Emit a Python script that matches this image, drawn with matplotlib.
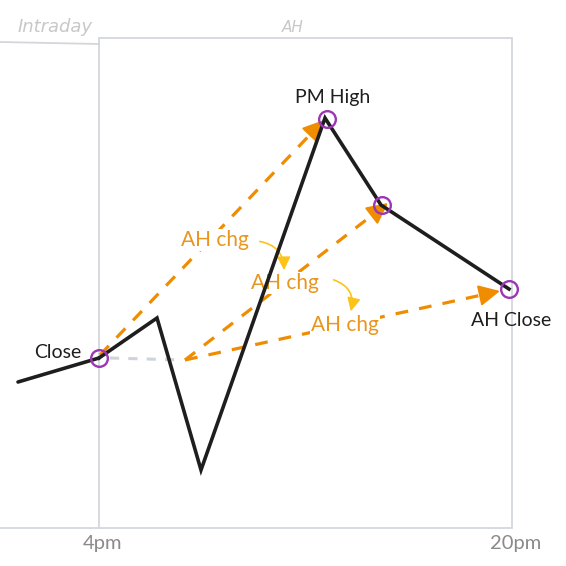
import matplotlib.pyplot as plt
from matplotlib.patches import Rectangle

# price path (time position, price position in sketch units; y grows downwards)
intraday_x = [18, 99]
intraday_y = [382, 358]
path_x = [99, 157, 201, 325, 381, 509]
path_y = [358, 318, 470, 118, 205, 289]

# key points marked with circles
key_x = [99, 327, 382, 509]
key_y = [358, 119, 205, 289]
key_labels = ["Close", "PM High", "", "AH Close"]

# "AH chg" arrows: start -> end
chg_start_x = [100, 185, 185]
chg_start_y = [355, 360, 360]
chg_end_x = [324, 388, 500]
chg_end_y = [120, 203, 291]
chg_label_x = [215, 285, 345]
chg_label_y = [240, 283, 325]

# flat reference from the close
ref_x = [110, 183]
ref_y = [358, 360]

session_labels = ["Intraday", "AH"]
time_labels = ["4pm", "20pm"]

BLACK = "#1e1e1e"
PURPLE = "#9c36b5"
ORANGE = "#f08c00"
ORANGE_TXT = "#e8961e"
YELLOW = "#fcc419"
GRID = "#d3d7db"
GREY_TXT = "#8a8a8a"

fig = plt.figure(figsize=(5.66, 5.66), dpi=100, facecolor="white")
ax = fig.add_axes([0, 0, 1, 1])
ax.set_xlim(0, 566)
ax.set_ylim(566, 0)
ax.axis("off")

# session boxes
ax.add_patch(Rectangle((99, 38), 413, 490, fill=False, edgecolor=GRID, linewidth=1.3))
ax.plot([0, 99], [42, 44], color=GRID, lw=1.3)
ax.plot([0, 99], [528, 528], color=GRID, lw=1.3)

ax.text(55, 27, session_labels[0], color="#c8c8c8", fontsize=13, ha="center", va="center",
        family="DejaVu Sans", style="italic")
ax.text(293, 27, session_labels[1], color="#c8c8c8", fontsize=11, ha="center", va="center",
        family="DejaVu Sans", style="italic")
ax.text(103, 543, time_labels[0], color=GREY_TXT, fontsize=14.5, ha="center", va="center", family="Lato")
ax.text(516, 543, time_labels[1], color=GREY_TXT, fontsize=14.5, ha="center", va="center", family="Lato")

# flat reference
ax.plot(ref_x, ref_y, color="#ced4da", lw=2.2, ls=(0, (3, 3)), solid_capstyle="round")

# orange dashed change arrows
for sx, sy, ex, ey in zip(chg_start_x, chg_start_y, chg_end_x, chg_end_y):
    dx, dy = ex - sx, ey - sy
    L = (dx ** 2 + dy ** 2) ** 0.5
    mx, my = ex - dx / L * 16, ey - dy / L * 16
    ax.plot([sx, mx], [sy, my], color=ORANGE, lw=2.3, ls=(0, (4, 3.5)), zorder=3)
    ax.annotate("", xy=(ex, ey), xytext=(mx, my),
                arrowprops=dict(arrowstyle="-|>,head_length=1.3,head_width=0.65",
                                color=ORANGE, lw=1.5, shrinkA=0, shrinkB=0), zorder=3)

for lx, ly in zip(chg_label_x, chg_label_y):
    ax.text(lx, ly, "AH chg", color=ORANGE_TXT, fontsize=15, ha="center", va="center",
            family="Lato", zorder=4,
            bbox=dict(boxstyle="square,pad=0.05", facecolor="white", edgecolor="none"))

# small yellow pointers
ax.annotate("", xy=(284, 273), xytext=(257, 241),
            arrowprops=dict(arrowstyle="-|>,head_length=0.8,head_width=0.4", color=YELLOW,
                            lw=1.2, connectionstyle="arc3,rad=-0.45"), zorder=4)
ax.annotate("", xy=(350, 314), xytext=(331, 279),
            arrowprops=dict(arrowstyle="-|>,head_length=0.8,head_width=0.4", color=YELLOW,
                            lw=1.2, connectionstyle="arc3,rad=-0.5"), zorder=4)

# price path
ax.plot(intraday_x, intraday_y, color=BLACK, lw=2.6, solid_capstyle="round", zorder=5)
ax.plot(path_x, path_y, color=BLACK, lw=2.6, solid_joinstyle="miter", zorder=5)

ax.plot(key_x, key_y, ls="none", marker="o", ms=12, mfc="none", mec=PURPLE, mew=1.7, zorder=6)

ax.text(58, 353, key_labels[0], color=BLACK, fontsize=14, ha="center", va="center", family="Lato")
ax.text(333, 97, key_labels[1], color=BLACK, fontsize=14, ha="center", va="center", family="Lato")
ax.text(511, 320, key_labels[3], color=BLACK, fontsize=14, ha="center", va="center", family="Lato")

fig.savefig("out.png", dpi=100, facecolor="white")
